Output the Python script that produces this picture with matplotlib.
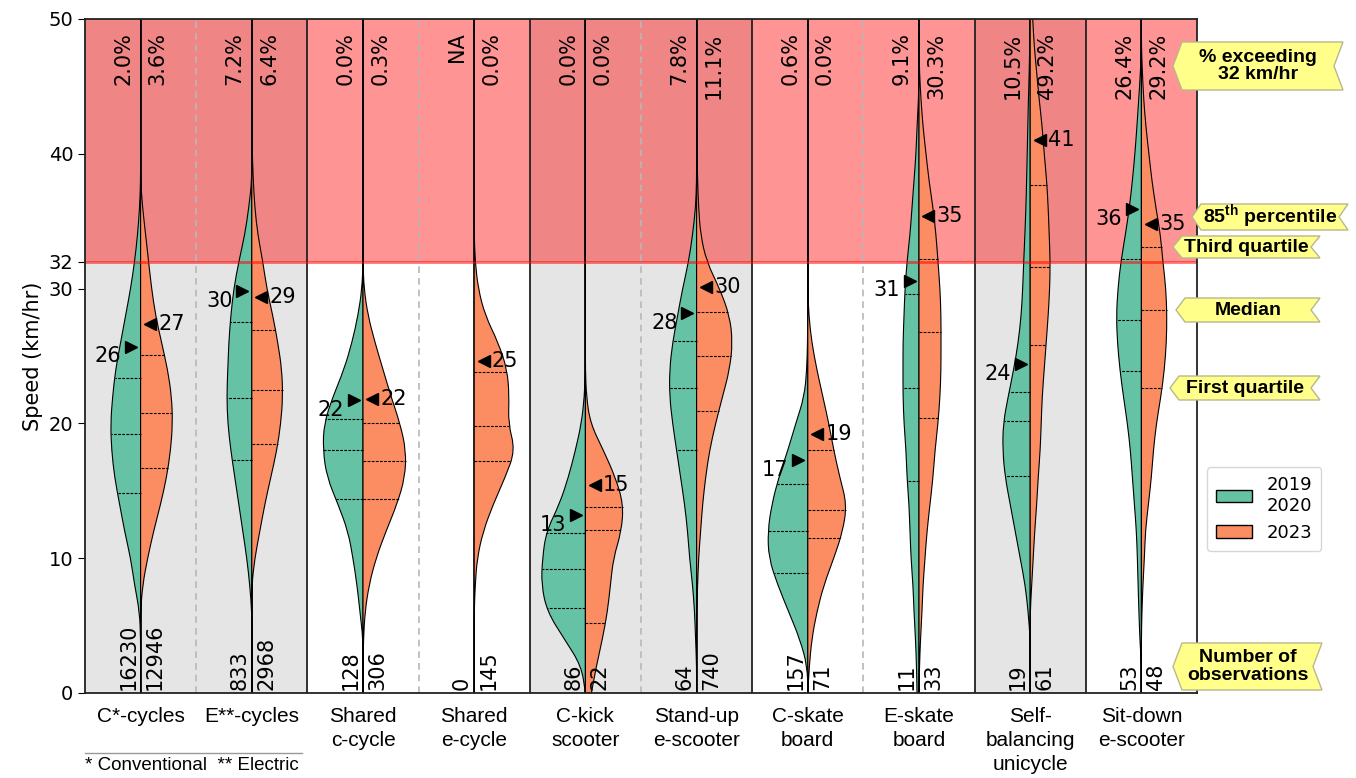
import numpy as np
import matplotlib.pyplot as plt
from matplotlib.patches import Patch, Polygon, PathPatch
from matplotlib.path import Path
from matplotlib.lines import Line2D

plt.rcParams['font.family'] = 'DejaVu Sans'
plt.rcParams['mathtext.fontset'] = 'custom'
plt.rcParams['mathtext.bf'] = 'Liberation Sans:bold'
plt.rcParams['mathtext.rm'] = 'Liberation Sans'

modes = ['C*-cycles', 'E**-cycles', 'Shared\nc-cycle', 'Shared\ne-cycle', 'C-kick\nscooter',
         'Stand-up\ne-scooter', 'C-skate\nboard', 'E-skate\nboard', 'Self-\nbalancing\nunicycle',
         'Sit-down\ne-scooter']

# speed grid (km/hr) for the density profiles
speed = np.arange(0, 51, 2)

# half-violin density profiles on the speed grid: 2019/2020 survey and 2023 survey
c_cycle_old = [0, 0, 0, 1, 6, 10, 16, 21, 26, 29, 30, 28, 25, 20, 15, 10, 6, 3, 1, 0, 0, 0, 0, 0, 0, 0]
c_cycle_new = [0, 0, 0, 0, 2, 7, 13, 20, 26, 30, 32, 31, 27, 21, 15, 11, 8, 5, 2, 0, 0, 0, 0, 0, 0, 0]
e_cycle_old = [0, 0, 0, 0, 2, 5, 9, 13, 17, 21, 24, 25, 24, 23, 21, 18, 13, 7, 3, 0, 0, 0, 0, 0, 0, 0]
e_cycle_new = [0, 0, 0, 0, 0, 3, 8, 13, 19, 25, 29, 31, 30, 26, 21, 15, 11, 6, 3, 1.5, 0.5, 0, 0, 0, 0, 0]
shared_c_old = [0, 0, 0, 3, 6, 10, 15, 25, 36, 40, 39, 30, 19, 11, 5, 1, 0, 0, 0, 0, 0, 0, 0, 0, 0, 0]
shared_c_new = [0, 0, 0.5, 2, 6, 13, 23, 34, 42, 43, 37, 28, 20, 12, 5, 1, 0, 0, 0, 0, 0, 0, 0, 0, 0, 0]
shared_e_old = None
shared_e_new = [0, 0, 0, 0, 1, 3, 9, 19, 31, 41, 34, 35, 33, 24, 11, 4, 1, 0, 0, 0, 0, 0, 0, 0, 0, 0]
kick_old = [0, 4, 21, 38, 44, 43, 39, 26, 17, 10, 4, 1, 0, 0, 0, 0, 0, 0, 0, 0, 0, 0, 0, 0, 0, 0]
kick_new = [6, 11, 17, 22, 25, 28, 36, 38, 30, 18, 5, 1, 0, 0, 0, 0, 0, 0, 0, 0, 0, 0, 0, 0, 0, 0]
standup_old = [0, 0, 1, 2, 4, 7, 9, 12, 16, 20, 24, 27, 27, 24, 19, 14, 8, 4, 1, 0, 0, 0, 0, 0, 0, 0]
standup_new = [0, 0, 0, 0, 1, 2, 4, 6, 9, 13, 19, 26, 33, 36, 33, 23, 10, 4, 2, 1, 0.5, 0, 0, 0, 0, 0]
c_skate_old = [0, 0.5, 8, 19, 30, 39, 40, 36, 29, 20, 12, 3.5, 1, 0.3, 0, 0, 0, 0, 0, 0, 0, 0, 0, 0, 0, 0]
c_skate_new = [0, 1.5, 4, 9, 16, 26, 35, 39, 32, 26, 21, 15, 9, 4, 1, 0, 0, 0, 0, 0, 0, 0, 0, 0, 0, 0]
e_skate_old = [2, 2.5, 3.5, 5, 6, 8, 9, 10, 12, 13, 15, 16, 16, 16, 15, 14, 12, 9, 7, 5, 3, 2, 0.5, 0, 0, 0]
e_skate_new = [0, 0.5, 1.5, 3, 4, 6, 8, 11, 14, 16, 19, 21, 22, 22, 22, 21, 19, 17, 14, 10, 7, 4, 2, 0.5, 0, 0]
unicycle_old = [0, 0, 0, 2, 5, 10, 15, 20, 25, 27.5, 27, 22, 16.5, 12, 9, 7.5, 6.5, 5.3, 4.3, 3.6, 3, 2.4, 1.8, 1, 0.5, 0]
unicycle_new = [0, 0, 0, 0, 1.5, 3, 4.5, 6.5, 8, 10, 11, 12, 14, 16, 18, 19.5, 20, 19, 18, 16.5, 14, 12, 9, 6.5, 4, 2.5]
sitdown_old = [0, 0, 1.5, 2.5, 3.3, 4, 5, 7, 9, 11, 14, 18, 21.5, 24, 25, 23.5, 20.5, 16, 12, 9, 6.5, 4.5, 2.7, 1, 0, 0]
sitdown_new = [0, 0, 0, 0.5, 1.5, 3, 4, 7, 10, 12, 15, 19.5, 23, 25, 25.5, 24.5, 21.5, 19, 14.5, 10.5, 7.5, 4.5, 2.3, 1, 0, 0]

dens_old = [c_cycle_old, e_cycle_old, shared_c_old, shared_e_old, kick_old,
            standup_old, c_skate_old, e_skate_old, unicycle_old, sitdown_old]
dens_new = [c_cycle_new, e_cycle_new, shared_c_new, shared_e_new, kick_new,
            standup_new, c_skate_new, e_skate_new, unicycle_new, sitdown_new]

# quartiles (Q1, median, Q3) and 85th percentile
quart_old = [(14.8, 19.2, 23.4), (17.3, 21.9, 27.5), (14.4, 18.0, 20.3), None, (6.3, 9.2, 11.9),
             (18.0, 22.6, 26.1), (8.9, 12.0, 15.5), (15.7, 22.6, 29.6), (16.1, 20.2, 22.3), (23.9, 27.7, 32.2)]
quart_new = [(16.7, 20.8, 25.1), (18.5, 22.5, 26.9), (14.4, 17.2, 20.0), (17.2, 19.8, 23.8), (5.2, 12.1, 13.8),
             (20.9, 25.0, 28.3), (11.5, 13.6, 18.0), (20.4, 26.8, 32.2), (25.8, 31.6, 37.7), (22.6, 28.4, 33.1)]
p85_old = [25.7, 29.8, 21.7, None, 13.2, 28.2, 17.3, 30.6, 24.4, 35.9]
p85_new = [27.4, 29.4, 21.8, 24.6, 15.4, 30.1, 19.2, 35.4, 41.0, 34.8]

# share of riders above 32 km/hr (%) and number of observations
pct_old = [2.0, 7.2, 0.0, None, 0.0, 7.8, 0.6, 9.1, 10.5, 26.4]
pct_new = [3.6, 6.4, 0.3, 0.0, 0.0, 11.1, 0.0, 30.3, 49.2, 29.2]
n_old = [16230, 833, 128, 0, 86, 64, 157, 11, 19, 53]
n_new = [12946, 2968, 306, 145, 22, 740, 71, 33, 61, 48]

limit = 32
green = '#66c2a5'
orange = '#fc8d62'
scale = 1 / 111.2


def half_violin(ax, x0, ys, xs, color):
    # outer edge drawn as a quadratic spline through the profile points
    pts = list(zip(xs, ys))
    verts = [(x0, ys[0]), pts[0], ((pts[0][0] + pts[1][0]) / 2, (pts[0][1] + pts[1][1]) / 2)]
    codes = [Path.MOVETO, Path.LINETO, Path.LINETO]
    for k in range(1, len(pts) - 1):
        nxt = pts[k + 1]
        verts += [pts[k], ((pts[k][0] + nxt[0]) / 2, (pts[k][1] + nxt[1]) / 2)]
        codes += [Path.CURVE3, Path.CURVE3]
    verts += [pts[-1], (x0, ys[-1]), (x0, ys[0])]
    codes += [Path.LINETO, Path.LINETO, Path.CLOSEPOLY]
    ax.add_patch(PathPatch(Path(verts, codes), facecolor=color, edgecolor='black', lw=0.8, zorder=3))


W, H = 1356, 778
fig = plt.figure(figsize=(W / 100, H / 100), dpi=100)
ax = fig.add_axes([85 / W, 85 / H, 1112 / W, 674 / H])
ax.set_xlim(-0.5, 9.5)
ax.set_ylim(0, 50)

# shaded groups, speed-limit band and separators
for lo, hi in [(-0.5, 1.5), (3.5, 5.5), (7.5, 8.5)]:
    ax.axvspan(lo, hi, color='#e5e5e5', lw=0, zorder=0)
ax.axhspan(limit, 50, color='red', alpha=0.42, lw=0, zorder=1)
for b in [0.5, 2.5, 4.5, 6.5]:
    ax.axvline(b, color='#b8b8b8', ls=(0, (4, 3)), lw=1.2, zorder=2)
for b in [1.5, 3.5, 5.5, 7.5, 8.5]:
    ax.axvline(b, color='#222222', lw=1.3, zorder=2)

for i in range(len(modes)):
    ax.axvline(i, color='black', lw=1.1, zorder=2)
    for dens, quart, p85, sign, col in [(dens_old[i], quart_old[i], p85_old[i], -1, green),
                                        (dens_new[i], quart_new[i], p85_new[i], 1, orange)]:
        if dens is None:
            continue
        w = np.array(dens) * scale
        half_violin(ax, i, speed, i + sign * w, col)
        for q in quart:
            qw = np.interp(q, speed, w)
            ax.plot([i, i + sign * qw], [q, q], color='black', lw=0.8, ls=(0, (2.5, 1.2)), zorder=4)
        mk = '>' if sign < 0 else '<'
        ax.plot(i + sign * 0.085, p85, marker=mk, color='black', ms=9, zorder=6)
        if sign < 0:
            ax.annotate(f'{p85:.0f}', (i - 0.085, p85), xytext=(-7, -7), textcoords='offset points',
                        ha='right', va='center', fontsize=15, zorder=6)
        else:
            ax.annotate(f'{p85:.0f}', (i + 0.085, p85), xytext=(6, 0), textcoords='offset points',
                        ha='left', va='center', fontsize=15, zorder=6)

    po = 'NA' if pct_old[i] is None else f'{pct_old[i]:.1f}%'
    ax.text(i - 0.065, 49.0, po, rotation=90, ha='right', va='top', fontsize=15, zorder=6)
    ax.text(i + 0.065, 49.0, f'{pct_new[i]:.1f}%', rotation=90, ha='left', va='top', fontsize=15, zorder=6)
    ax.text(i - 0.02, 0.25, str(n_old[i]), rotation=90, ha='right', va='bottom', fontsize=15, zorder=6)
    ax.text(i + 0.04, 0.25, str(n_new[i]), rotation=90, ha='left', va='bottom', fontsize=15, zorder=6)

ax.axhline(limit, color='red', alpha=0.55, lw=2, zorder=5)

ax.set_yticks([0, 10, 20, 30, 32, 40, 50])
ax.tick_params(axis='y', labelsize=14, length=5)
ax.set_xticks(range(len(modes)))
ax.set_xticklabels(modes, family='Liberation Sans', fontsize=15, linespacing=1.35)
ax.tick_params(axis='x', length=0, pad=10)
ax.set_ylabel('Speed (km/hr)', fontsize=15, labelpad=4)
for s in ax.spines.values():
    s.set_linewidth(1.3)
    s.set_color('#222222')
    s.set_zorder(7)

fig.add_artist(Line2D([85 / W, 302 / W], [1 - 753 / H] * 2, color='#999999', lw=1))
fig.text(85 / W, 1 - 766 / H, '* Conventional  ** Electric', family='Liberation Sans', fontsize=13.5, va='center')


def flag(x0, x1, y0, y1, text):
    d = 9
    ym = (y0 + y1) / 2
    pts = [(x0 + d, y0), (x1, y0), (x1 - d, ym), (x1, y1), (x0 + d, y1), (x0, ym)]
    pts = [(x / W, 1 - y / H) for x, y in pts]
    fig.add_artist(Polygon(pts, closed=True, transform=fig.transFigure,
                           facecolor='#ffff8a', edgecolor='#b8b88c', lw=1))
    fig.text((x0 + x1) / 2 / W, 1 - ym / H, text, ha='center', va='center', fontsize=14,
             fontweight='bold', family='Liberation Sans', linespacing=1.0)


flag(1173, 1343, 42, 90, '% exceeding\n32 km/hr')
flag(1192, 1348, 204, 230, r'85$^{\mathbf{th}}$ percentile')
flag(1173, 1320, 236, 258, 'Third quartile')
flag(1176, 1320, 298, 322, 'Median')
flag(1170, 1320, 376, 400, 'First quartile')
flag(1173, 1322, 643, 690, 'Number of\nobservations')

handles = [Patch(facecolor=green, edgecolor='black'), Patch(facecolor=orange, edgecolor='black')]
fig.legend(handles, ['2019\n2020', '2023'], loc='upper left', bbox_to_anchor=(1207 / W, 1 - 467 / H),
           fontsize=13, handlelength=2.0, handleheight=0.7, edgecolor='#cccccc', borderpad=0.5,
           labelspacing=0.5, borderaxespad=0)

fig.savefig('out.png', dpi=100)
